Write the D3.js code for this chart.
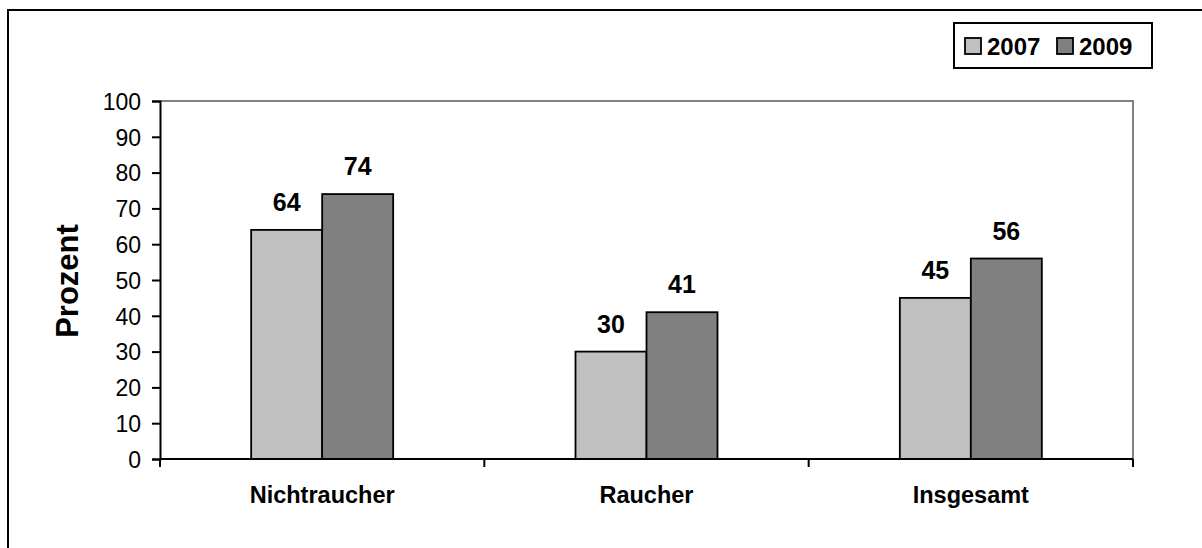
<!DOCTYPE html>
<html>
<head>
<meta charset="utf-8">
<script src="https://cdn.jsdelivr.net/npm/d3@7"></script>
<style>
  html, body { margin: 0; padding: 0; background: #fff; }
  svg text { font-family: "Liberation Sans", Arial, sans-serif; fill: #000; }
</style>
</head>
<body>
<svg id="chart" width="1202" height="548"></svg>
<script>
// Share of respondents (percent) by group, survey years 2007 and 2009
const categories = ["Nichtraucher", "Raucher", "Insgesamt"];
const years = ["2007", "2009"];
const values2007 = [64, 30, 45];
const values2009 = [74, 41, 56];
const yTicks = [0, 10, 20, 30, 40, 50, 60, 70, 80, 90, 100];
const yTitle = "Prozent";

const colors = { "2007": "#c0c0c0", "2009": "#808080" };
const seriesValues = { "2007": values2007, "2009": values2009 };

const svg = d3.select("#chart");

// outer frame
svg.append("rect")
  .attr("x", 8).attr("y", 10)
  .attr("width", 1300).attr("height", 700)
  .attr("fill", "none").attr("stroke", "#000").attr("stroke-width", 2);

const plot = { left: 160, right: 1133, top: 101, bottom: 459 };

const x = d3.scaleBand().domain(categories).range([plot.left, plot.right]).padding(0);
const y = d3.scaleLinear().domain([0, 100]).range([plot.bottom, plot.top]);
const barW = 71;

// plot-area frame: grey top and right edges
svg.append("path")
  .attr("d", `M${plot.left},${plot.top}H${plot.right}V${plot.bottom}`)
  .attr("fill", "none").attr("stroke", "#808080").attr("stroke-width", 2);

// bars
const rows = categories.map((c, i) => ({ c, i }));
years.forEach((yr, k) => {
  svg.append("g").selectAll("rect")
    .data(rows)
    .join("rect")
    .attr("x", d => x(d.c) + x.bandwidth() / 2 - barW + k * barW)
    .attr("y", d => y(seriesValues[yr][d.i]))
    .attr("width", barW)
    .attr("height", d => y(0) - y(seriesValues[yr][d.i]))
    .attr("fill", colors[yr])
    .attr("stroke", "#000").attr("stroke-width", 1.8);

  // value labels
  svg.append("g").selectAll("text")
    .data(rows)
    .join("text")
    .attr("x", d => x(d.c) + x.bandwidth() / 2 - barW / 2 + k * barW)
    .attr("y", d => y(seriesValues[yr][d.i]) - 19)
    .attr("text-anchor", "middle")
    .attr("font-weight", "bold")
    .attr("font-size", 25)
    .text(d => seriesValues[yr][d.i]);
});

// y axis
const yAxis = d3.axisLeft(y).tickValues(yTicks).tickSize(8).tickPadding(11);
const gy = svg.append("g").attr("transform", `translate(${plot.left},0)`).call(yAxis);
gy.select(".domain").attr("stroke", "#000").attr("stroke-width", 2);
gy.selectAll(".tick line").attr("stroke", "#000").attr("stroke-width", 2);
gy.selectAll(".tick text")
  .attr("font-size", 23)
  .attr("font-family", "'Liberation Sans', Arial, sans-serif")
  .attr("fill", "#000")
  .attr("dy", "0.36em");

// x axis: baseline with ticks at category boundaries
const gx = svg.append("g");
gx.append("line")
  .attr("x1", plot.left).attr("x2", plot.right)
  .attr("y1", y(0)).attr("y2", y(0))
  .attr("stroke", "#000").attr("stroke-width", 2);
const bounds = categories.map(c => x(c)).concat([x(categories[categories.length - 1]) + x.bandwidth()]);
gx.selectAll("line.tick")
  .data(bounds)
  .join("line")
  .attr("class", "tick")
  .attr("x1", d => d).attr("x2", d => d)
  .attr("y1", y(0)).attr("y2", y(0) + 8)
  .attr("stroke", "#000").attr("stroke-width", 2);
gx.selectAll("text")
  .data(categories)
  .join("text")
  .attr("x", d => x(d) + x.bandwidth() / 2)
  .attr("y", 503)
  .attr("text-anchor", "middle")
  .attr("font-weight", "bold")
  .attr("font-size", 23.5)
  .text(d => d);

// y axis title
svg.append("text")
  .attr("transform", "translate(78,281) rotate(-90)")
  .attr("text-anchor", "middle")
  .attr("font-weight", "bold")
  .attr("font-size", 31)
  .text(yTitle);

// legend
const lg = svg.append("g");
lg.append("rect")
  .attr("x", 954).attr("y", 23).attr("width", 198).attr("height", 45)
  .attr("fill", "#fff").attr("stroke", "#000").attr("stroke-width", 2);
const legendX = [965, 1057];
years.forEach((yr, k) => {
  lg.append("rect")
    .attr("x", legendX[k]).attr("y", 38).attr("width", 16).attr("height", 16)
    .attr("fill", colors[yr]).attr("stroke", "#000").attr("stroke-width", 1.8);
  lg.append("text")
    .attr("x", legendX[k] + 22)
    .attr("y", 55)
    .attr("font-weight", "bold")
    .attr("font-size", 24)
    .text(yr);
});
</script>
</body>
</html>
